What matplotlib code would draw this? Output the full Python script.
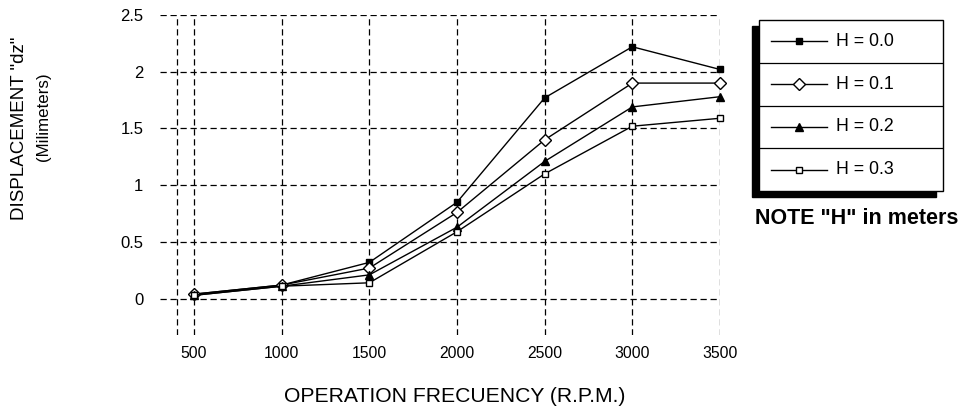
import matplotlib
matplotlib.use("Agg")
import matplotlib.pyplot as plt
from matplotlib.patches import Rectangle

plt.rcParams['font.family'] = ['Liberation Sans', 'DejaVu Sans']

# data
rpm = [500, 1000, 1500, 2000, 2500, 3000, 3500]
h00 = [0.04, 0.12, 0.32, 0.85, 1.77, 2.22, 2.02]
h01 = [0.04, 0.12, 0.27, 0.76, 1.40, 1.90, 1.90]
h02 = [0.03, 0.11, 0.21, 0.63, 1.21, 1.69, 1.78]
h03 = [0.03, 0.11, 0.14, 0.59, 1.10, 1.52, 1.59]
labels = ["H = 0.0", "H = 0.1", "H = 0.2", "H = 0.3"]
yticks = [0, 0.5, 1, 1.5, 2, 2.5]
ytick_labels = ["0", "0.5", "1", "1.5", "2", "2.5"]

styles = [
    dict(marker='s', ms=4, mfc='black', mec='black'),
    dict(marker='D', ms=6, mfc='white', mec='black', mew=1.0),
    dict(marker='^', ms=6, mfc='black', mec='black'),
    dict(marker='s', ms=5, mfc='white', mec='black', mew=1.0),
]
series = [h00, h01, h02, h03]

W, H = 962, 408
fig = plt.figure(figsize=(9.62, 4.08), dpi=100)
ax = fig.add_axes([160 / W, 1 - 335 / H, (720 - 160) / W, (335 - 15) / H])

dash = (0, (5, 3))
for s, st in zip(series, styles):
    ax.plot(rpm, s, color='black', lw=1.0, clip_on=False, zorder=3, **st)

ax.set_xlim(306, 3500)
ax.set_ylim(-0.32, 2.5)
for v in yticks:
    ax.axhline(v, color='black', lw=0.9, ls=dash, zorder=1)
for v in rpm + [403]:
    ax.axvline(v, color='black', lw=0.9, ls=dash, zorder=1)

for sp in ax.spines.values():
    sp.set_visible(False)
ax.set_xticks(rpm)
ax.set_xticklabels([str(r) for r in rpm], fontsize=11.3)
ax.set_yticks(yticks)
ax.set_yticklabels(ytick_labels, fontsize=12)
ax.tick_params(axis='both', length=0)
ax.tick_params(axis='y', pad=12)
ax.tick_params(axis='x', pad=8)

fig.text(455 / W, 1 - 397 / H, "OPERATION FRECUENCY (R.P.M.)", ha='center',
         va='center', fontsize=15.2)
fig.text(20 / W, 1 - 128 / H, 'DISPLACEMENT "dz"', rotation=90, ha='center',
         va='center', fontsize=13.5)
fig.text(43 / W, 1 - 117 / H, "(Milimeters)", rotation=90, ha='center',
         va='center', fontsize=12.2)

# legend box drawn by hand (shadow to lower left, rows split by lines)
lx0, ly0, lx1, ly1 = 759, 20, 943, 191
lax = fig.add_axes([lx0 / W, 1 - ly1 / H, (lx1 - lx0) / W, (ly1 - ly0) / H])
bw, bh = lx1 - lx0, ly1 - ly0
lax.set_xlim(0, bw)
lax.set_ylim(bh, 0)
lax.axis('off')
lax.add_patch(Rectangle((-7, 6), bw, bh, facecolor='black', edgecolor='black',
                        clip_on=False, zorder=1))
lax.add_patch(Rectangle((0, 0), bw, bh, facecolor='white', edgecolor='black',
                        lw=1.0, clip_on=False, zorder=2))
row_h = bh / len(labels)
for i, (lab, st) in enumerate(zip(labels, styles)):
    yc = row_h * (i + 0.5)
    if i > 0:
        lax.plot([0, bw], [row_h * i] * 2, color='black', lw=0.9, zorder=3)
    lax.plot([12, 40, 68], [yc] * 3, color='black', lw=1.0, zorder=4,
             markevery=[1], **st)
    lax.text(77, yc, lab, ha='left', va='center', fontsize=12.8, zorder=4)

fig.text(857 / W, 1 - 218 / H, 'NOTE "H" in meters', ha='center', va='center',
         fontsize=15.5, fontweight='bold')

fig.savefig("out.png", dpi=100)
